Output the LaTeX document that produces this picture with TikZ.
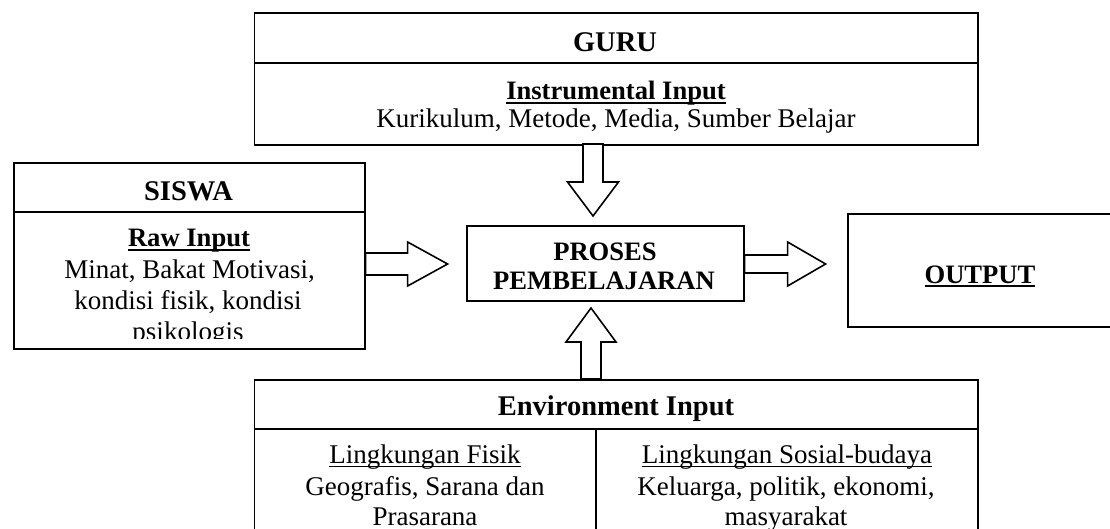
\documentclass[tikz,border=0pt]{standalone}
\usepackage{fontspec}
\setmainfont{Liberation Serif}
\usetikzlibrary{calc}
\newcommand\myul[3]{\setbox0\hbox{#3}\rlap{\rule[#1]{\wd0}{#2}}\copy0}
\newcommand\blockarrow[7]{%
  % #1 start, #2 rotation, #3 total length, #4 shaft half width, #5 head half width, #6 head length, #7 name
  \begin{scope}[shift={#1}, rotate=#2]
    \draw[arrowline] (0,-#4) -- (#3-#6,-#4) -- (#3-#6,-#5) -- (#3,0) coordinate (#7)
      -- (#3-#6,#5) -- (#3-#6,#4) -- (0,#4) -- cycle;
  \end{scope}}
\tikzset{
  frame/.style={draw, line width=1.6pt, inner sep=0pt, anchor=north west, fill=white},
  rule/.style={line width=1.6pt},
  arrowline/.style={draw, fill=white, line width=1.6pt, line join=miter},
  txt/.style={anchor=base, inner sep=0pt, font=\fontsize{27}{32}\selectfont},
  head/.style={anchor=base, inner sep=0pt, font=\bfseries\fontsize{28.5}{32}\selectfont},
  sub/.style={anchor=base, inner sep=0pt, font=\bfseries\fontsize{26.6}{32}\selectfont},
}
\begin{document}
\begin{tikzpicture}[x=1pt, y=-1pt]
\useasboundingbox (0,0) rectangle (1110,529);
\clip (0,0) rectangle (1110,529);

% ---------- boxes ----------
\node[frame, minimum width=723.5, minimum height=132] (guru) at (253.5,12) {};
\draw[rule] ($(guru.north west)+(0,51)$) -- ($(guru.north east)+(0,51)$);

\node[frame, minimum width=351, minimum height=186] (siswa) at (13,162) {};
\draw[rule] ($(siswa.north west)+(0,50)$) -- ($(siswa.north east)+(0,50)$);

\node[frame, minimum width=277, minimum height=75] (proses) at (466,225) {};

\node[frame, minimum width=300, minimum height=113] (output) at (847,213) {};

\node[frame, minimum width=723.5, minimum height=200] (env) at (253.5,379) {};
\draw[rule] ($(env.north west)+(0,50)$) coordinate (envdl) -- ($(env.north east)+(0,50)$) coordinate (envdr);
\coordinate (envmid) at (596,429);
\draw[rule] (envmid) -- ($(envmid)+(0,120)$);

% ---------- texts ----------
\node[head] (tguru) at (615,52) {GURU};
\node[sub] (tinstr) at (616,100) {\myul{-4.5pt}{2.3pt}{Instrumental Input}};
\node[txt] (tkur) at (616,128) {Kurikulum, Metode, Media, Sumber Belajar};

\node[head] (tsiswa) at (188.5,201) {SISWA};
\node[sub] (traw) at (189,247) {\myul{-4.5pt}{2.3pt}{Raw Input}};
\node[txt] (tmin) at (189.5,278) {Minat, Bakat Motivasi,};
\node[txt] (tkon) at (188,309) {kondisi fisik, kondisi};
\begin{scope}
  \clip (13,162) rectangle (364,338);
  \node[txt] (tpsi) at (188,340) {psikologis};
\end{scope}

\node[sub] (tpro) at (605,261) {PROSES};
\begin{scope}
  \clip (466,225) rectangle (743,290.5);
  \node[sub] (tpem) at (604,289) {PEMBELAJARAN};
\end{scope}

\node[sub] (tout) at (980,283) {\myul{-4.5pt}{2.3pt}{OUTPUT}};

\node[head] (tenv) at (616,415) {Environment Input};
\node[txt] (tfis) at (425,463) {\myul{-4pt}{1.3pt}{Lingkungan Fisik}};
\node[txt] (tgeo) at (425,495) {Geografis, Sarana dan};
\node[txt] (tpra) at (425,525) {Prasarana};
\node[txt] (tsos) at (787,463) {\myul{-4pt}{1.3pt}{Lingkungan Sosial-budaya}};
\node[txt] (tkel) at (786,495) {Keluarga, politik, ekonomi,};
\node[txt] (tmas) at (786,525) {masyarakat};

% ---------- block arrows ----------
\coordinate (a1) at (siswa.east |- 0,264);
\blockarrow{(a1)}{0}{82}{11}{22}{40}{a1tip}
\coordinate (a2) at (proses.east |- 0,264);
\blockarrow{(a2)}{0}{81}{9}{22}{38}{a2tip}
\coordinate (a3) at (593,144);
\blockarrow{(a3)}{-90}{72}{10}{25.5}{34}{a3tip}
\coordinate (a4) at (591,379);
\blockarrow{(a4)}{90}{71}{10}{25}{34}{a4tip}
\end{tikzpicture}
\end{document}
